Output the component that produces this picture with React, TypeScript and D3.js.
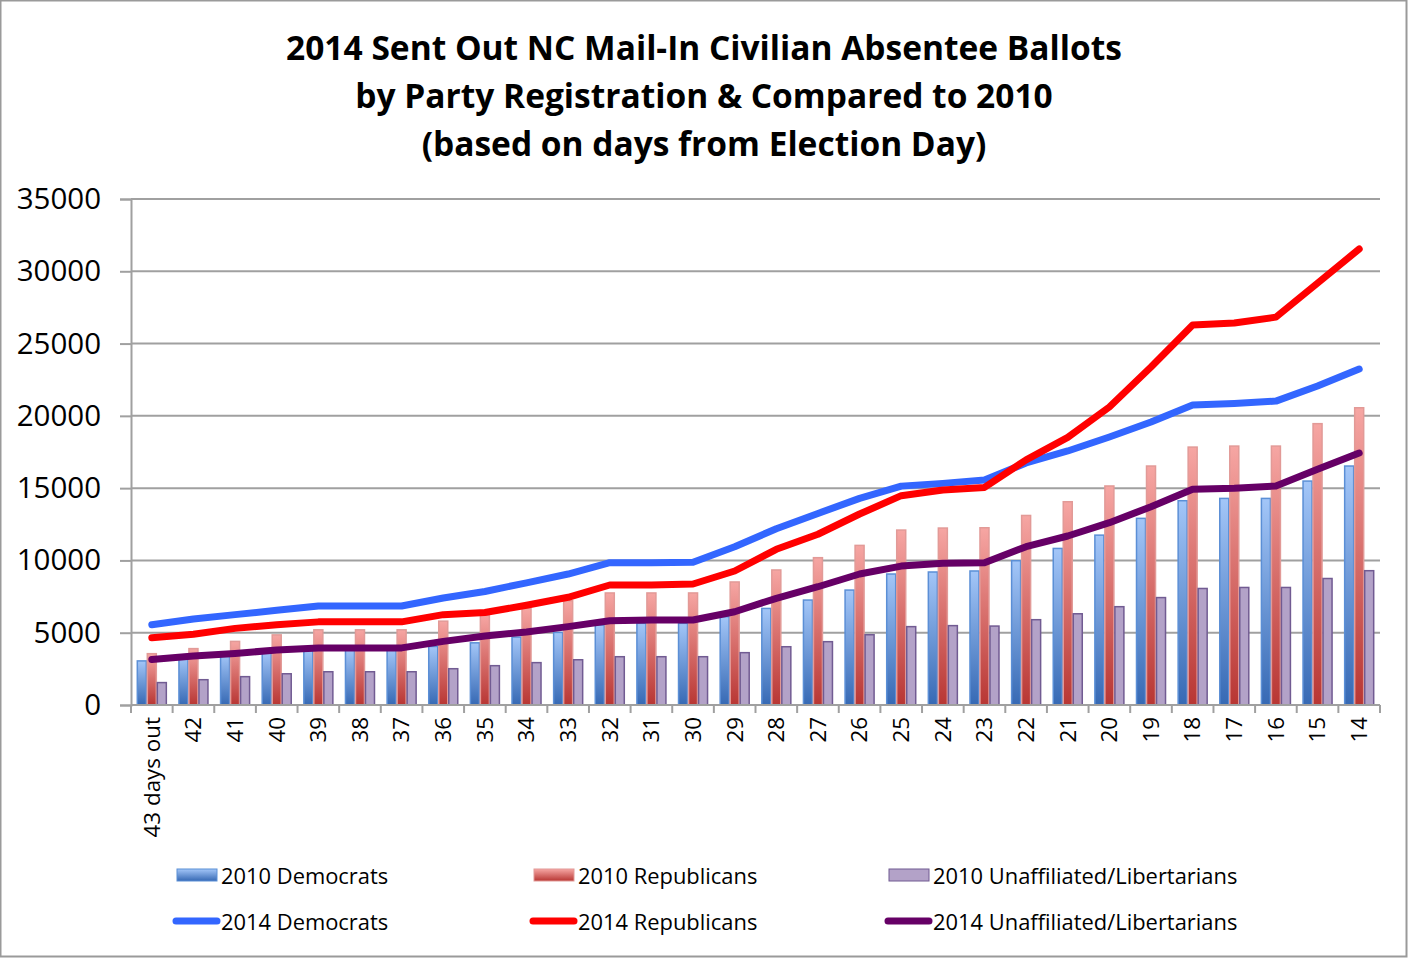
import { useEffect, useRef } from "react";
import * as d3 from "d3";

const categories = [
  "43 days out", "42", "41", "40", "39", "38", "37", "36", "35", "34",
  "33", "32", "31", "30", "29", "28", "27", "26", "25", "24",
  "23", "22", "21", "20", "19", "18", "17", "16", "15", "14",
];

// 2010 bars
const dem2010 = [
  3050, 3300, 3500, 3650, 3850, 3850, 3850, 4050, 4300, 4700,
  5020, 5530, 5650, 5650, 6110, 6680, 7260, 7950, 9060, 9200,
  9270, 9980, 10830, 11750, 12910, 14130, 14290, 14290, 15490, 16530,
];
const rep2010 = [
  3550, 3900, 4400, 4850, 5200, 5200, 5200, 5800, 6200, 6700,
  7210, 7750, 7750, 7750, 8510, 9340, 10190, 11040, 12100, 12240,
  12260, 13110, 14060, 15150, 16530, 17840, 17910, 17910, 19460, 20560,
];
const una2010 = [
  1550, 1750, 1960, 2160, 2300, 2300, 2300, 2510, 2720, 2930,
  3130, 3340, 3340, 3340, 3620, 4030, 4380, 4860, 5420, 5490,
  5460, 5900, 6310, 6800, 7430, 8060, 8130, 8130, 8750, 9290,
];

// 2014 lines
const dem2014 = [
  5550, 5950, 6250, 6550, 6850, 6850, 6850, 7400, 7850, 8450,
  9060, 9840, 9840, 9880, 10950, 12190, 13250, 14290, 15140, 15330,
  15560, 16740, 17570, 18540, 19570, 20750, 20860, 21020, 22060, 23240,
];
const rep2014 = [
  4650, 4900, 5300, 5550, 5750, 5750, 5750, 6250, 6400, 6900,
  7450, 8300, 8300, 8370, 9270, 10770, 11810, 13210, 14480, 14870,
  15050, 16960, 18510, 20610, 23380, 26280, 26420, 26830, 29180, 31540,
];
const una2014 = [
  3150, 3390, 3570, 3800, 3950, 3950, 3950, 4400, 4770, 5050,
  5420, 5830, 5880, 5880, 6450, 7380, 8180, 9060, 9610, 9800,
  9840, 10950, 11690, 12610, 13720, 14920, 14990, 15150, 16300, 17430,
];

const yTicks = [0, 5000, 10000, 15000, 20000, 25000, 30000, 35000];

const titleLines = [
  "2014 Sent Out NC Mail-In Civilian Absentee Ballots",
  "by Party Registration & Compared to 2010",
  "(based on days from Election Day)",
];

const barSeries = [
  { key: "dem", name: "2010 Democrats", values: dem2010, top: "#a3c6f8", bottom: "#3669b4", stroke: "#5b8fd6" },
  { key: "rep", name: "2010 Republicans", values: rep2010, top: "#f6a6a3", bottom: "#b83633", stroke: "#e29a97" },
  { key: "una", name: "2010 Unaffiliated/Libertarians", values: una2010, top: "#b3a2c8", bottom: "#b3a2c8", stroke: "#715b92" },
];

const lineSeries = [
  { name: "2014 Democrats", values: dem2014, color: "#3366ff" },
  { name: "2014 Republicans", values: rep2014, color: "#ff0000" },
  { name: "2014 Unaffiliated/Libertarians", values: una2014, color: "#660066" },
];

const W = 1408;
const H = 958;
const FONT = "'Open Sans', sans-serif";

export default function App() {
  const svgRef = useRef<SVGSVGElement | null>(null);

  useEffect(() => {
    if (!svgRef.current) return;
    document.body.style.margin = "0";

    const svg = d3.select(svgRef.current);
    svg.selectAll("*").remove();

    const left = 131, right = 1380, top = 199, bottom = 705;

    const x = d3.scaleBand<string>().domain(categories).range([left, right]).padding(0);
    const x1 = d3
      .scaleBand<string>()
      .domain(barSeries.map((s) => s.key))
      .range([0, x.bandwidth()])
      .paddingInner(0)
      .paddingOuter(0.58);
    const y = d3.scaleLinear().domain([0, 35000]).range([bottom, top]);

    // background + border
    svg.append("rect").attr("width", W).attr("height", H).attr("fill", "#fff");
    svg
      .append("rect")
      .attr("x", 0.5)
      .attr("y", 0.5)
      .attr("width", W - 2)
      .attr("height", H - 2)
      .attr("fill", "none")
      .attr("stroke", "#9a9a9a")
      .attr("stroke-width", 2);

    // gradients
    const defs = svg.append("defs");
    barSeries.forEach((s) => {
      const g = defs
        .append("linearGradient")
        .attr("id", `grad-${s.key}`)
        .attr("x1", 0)
        .attr("y1", 0)
        .attr("x2", 0)
        .attr("y2", 1);
      g.append("stop").attr("offset", "0%").attr("stop-color", s.top);
      g.append("stop").attr("offset", "100%").attr("stop-color", s.bottom);
    });

    // title
    svg
      .append("g")
      .selectAll("text")
      .data(titleLines)
      .enter()
      .append("text")
      .attr("x", 704)
      .attr("y", (_, i) => 60 + i * 48)
      .attr("text-anchor", "middle")
      .attr("font-family", FONT)
      .attr("font-weight", "bold")
      .attr("font-size", 33.5)
      .attr("fill", "#000")
      .text((d) => d);

    // gridlines
    svg
      .append("g")
      .selectAll("line")
      .data(yTicks.slice(1))
      .enter()
      .append("line")
      .attr("x1", left)
      .attr("x2", right)
      .attr("y1", (d) => y(d))
      .attr("y2", (d) => y(d))
      .attr("stroke", "#a0a0a0")
      .attr("stroke-width", 2);

    // y axis
    const yAxis = svg
      .append("g")
      .attr("transform", `translate(${left},0)`)
      .call(d3.axisLeft(y).tickValues(yTicks).tickSize(11).tickPadding(19).tickFormat((d) => String(d)));
    yAxis.select(".domain").attr("stroke", "#a0a0a0").attr("stroke-width", 2);
    yAxis.selectAll(".tick line").attr("stroke", "#a0a0a0").attr("stroke-width", 2);
    yAxis
      .selectAll(".tick text")
      .attr("font-family", FONT)
      .attr("font-size", 29.5)
      .attr("fill", "#000");

    // bars
    const groups = svg
      .append("g")
      .selectAll("g")
      .data(categories)
      .enter()
      .append("g")
      .attr("transform", (d) => `translate(${x(d)},0)`);

    barSeries.forEach((s) => {
      groups
        .append("rect")
        .attr("x", (x1(s.key) || 0) + 0.5)
        .attr("y", (_, i) => y(s.values[i]))
        .attr("width", x1.bandwidth() - 1)
        .attr("height", (_, i) => bottom - y(s.values[i]))
        .attr("fill", `url(#grad-${s.key})`)
        .attr("stroke", s.stroke)
        .attr("stroke-width", 1.5);
    });

    // x axis
    svg
      .append("line")
      .attr("x1", left)
      .attr("x2", right)
      .attr("y1", bottom)
      .attr("y2", bottom)
      .attr("stroke", "#a0a0a0")
      .attr("stroke-width", 2);
    svg
      .append("g")
      .selectAll("line")
      .data(d3.range(categories.length + 1))
      .enter()
      .append("line")
      .attr("x1", (i) => left + i * x.step())
      .attr("x2", (i) => left + i * x.step())
      .attr("y1", bottom)
      .attr("y2", bottom + 8)
      .attr("stroke", "#a0a0a0")
      .attr("stroke-width", 2);
    svg
      .append("g")
      .selectAll("text")
      .data(categories)
      .enter()
      .append("text")
      .attr("transform", (d) => `translate(${(x(d) || 0) + x.bandwidth() / 2},717) rotate(-90)`)
      .attr("text-anchor", "end")
      .attr("dy", "0.35em")
      .attr("font-family", FONT)
      .attr("font-size", 22.4)
      .attr("fill", "#000")
      .text((d) => d);

    // lines
    const line = d3
      .line<number>()
      .x((_, i) => (x(categories[i]) || 0) + x.bandwidth() / 2)
      .y((d) => y(d));
    lineSeries.forEach((s) => {
      svg
        .append("path")
        .attr("d", line(s.values))
        .attr("fill", "none")
        .attr("stroke", s.color)
        .attr("stroke-width", 7)
        .attr("stroke-linejoin", "round")
        .attr("stroke-linecap", "round");
    });

    // legend
    const colX = [177, 534, 889];
    const legend = svg.append("g");
    barSeries.forEach((s, i) => {
      legend
        .append("rect")
        .attr("x", colX[i])
        .attr("y", 869)
        .attr("width", 40)
        .attr("height", 12)
        .attr("fill", `url(#grad-${s.key})`)
        .attr("stroke", s.stroke)
        .attr("stroke-width", 1);
      legend
        .append("text")
        .attr("x", colX[i] + 44)
        .attr("y", 876)
        .attr("dy", "0.35em")
        .attr("font-family", FONT)
        .attr("font-size", 21.9)
        .attr("fill", "#000")
        .text(s.name);
    });
    lineSeries.forEach((s, i) => {
      legend
        .append("line")
        .attr("x1", colX[i] - 1)
        .attr("x2", colX[i] + 40)
        .attr("y1", 921)
        .attr("y2", 921)
        .attr("stroke", s.color)
        .attr("stroke-width", 7)
        .attr("stroke-linecap", "round");
      legend
        .append("text")
        .attr("x", colX[i] + 44)
        .attr("y", 922)
        .attr("dy", "0.35em")
        .attr("font-family", FONT)
        .attr("font-size", 21.9)
        .attr("fill", "#000")
        .text(s.name);
    });
  }, []);

  return <svg ref={svgRef} width={W} height={H} style={{ display: "block" }}></svg>;
}
